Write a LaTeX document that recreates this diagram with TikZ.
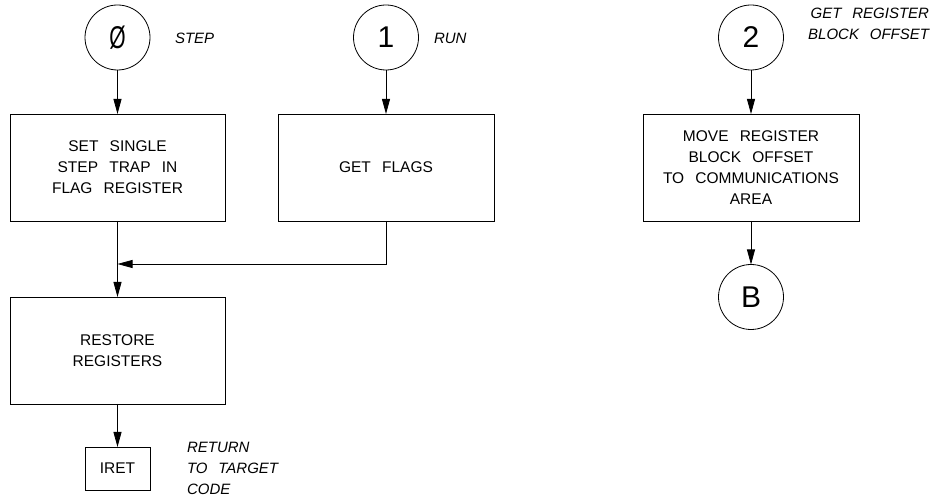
\documentclass[tikz,border=0pt]{standalone}
\usepackage{fontspec}
\usepackage{graphicx}
\setmainfont[WordSpace=2.6]{Liberation Sans}
\usetikzlibrary{arrows.meta}
\begin{document}
\begin{tikzpicture}[x=1pt,y=-1pt,
  line width=0.8pt,
  every node/.style={inner sep=0pt,outer sep=0pt},
  proc/.style={draw,rectangle,minimum width=215pt,minimum height=107pt,align=center,
    font=\fontsize{15.5}{21}\selectfont},
  conn/.style={draw,circle,minimum size=65pt,font=\fontsize{30}{30}\selectfont},
  lbl/.style={font=\fontsize{15}{21}\selectfont\itshape},
  arr/.style={-{Triangle[length=15pt,width=8pt]}}]
\useasboundingbox (0,0) rectangle (935,502);
% connectors (circles)
\node[conn] (c0) at (117.5,37.5) {\scalebox{0.7}[1.05]{Ø}};
\node[conn] (c1) at (386,37.5) {1};
\node[conn] (c2) at (751,37.5) {2};
\node[conn] (cB) at (751,297) {B};
% labels
\node[lbl,anchor=west] (l0) at (175,38) {STEP};
\node[lbl,anchor=west] (l1) at (434,38) {RUN};
\node[lbl,align=right,anchor=east] (l2) at (929,24) {GET REGISTER\\BLOCK OFFSET};
\node[lbl,align=left,anchor=west] (l3) at (187,468) {RETURN\\TO TARGET\\CODE};
% process boxes
\node[proc] (b1) at (117.5,167.5) {SET SINGLE\\STEP TRAP IN\\FLAG REGISTER};
\node[proc,minimum width=216pt] (b2) at (386,167.5) {GET FLAGS};
\node[proc,minimum width=216pt] (b4) at (751,167.5) {MOVE REGISTER\\BLOCK OFFSET\\TO COMMUNICATIONS\\AREA};
\node[proc] (b3) at (117.5,350.5) {RESTORE\\REGISTERS};
\node[proc,minimum width=65pt,minimum height=43pt] (iret) at (117.5,468.5) {IRET};
\coordinate (j) at (117.5,264);
% arrows
\draw[arr] (c0.south) -- (b1.north);
\draw[arr] (c1.south) -- (b2.north);
\draw[arr] (c2.south) -- (b4.north);
\draw[arr] (b4.south) -- (cB.north);
\draw[arr] (b1.south) -- (b3.north);
\draw[arr] (b2.south) |- (j);
\draw[arr] (b3.south) -- (iret.north);
\end{tikzpicture}
\end{document}
